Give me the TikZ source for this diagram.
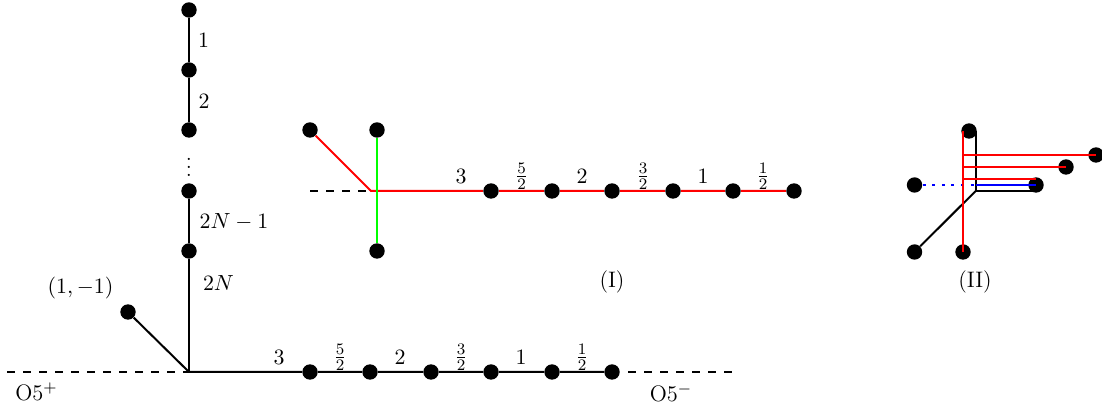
\documentclass[tikz,border=0pt]{standalone}
\usepackage{amssymb}
\usetikzlibrary{arrows.meta, calc}
\definecolor{redline}{RGB}{255, 0, 0}
\definecolor{greenline}{RGB}{0, 255, 0}
\definecolor{blueline}{RGB}{0, 0, 255}

\begin{document}
\begin{tikzpicture}[x=0.5pt, y=-0.5pt,
        brane/.style={circle, fill=black, draw=none, minimum size=7.7pt, inner sep=0pt},
        wire/.style={line width=1pt, black},
        redwire/.style={line width=1pt, redline},
        dashwire/.style={line width=1pt, black, dash pattern=on 4pt off 4pt},
        lab/.style={inner sep=0pt, font=\fontsize{11.2}{13}\selectfont}
    ]
    \useasboundingbox (0,0) rectangle (1102,405);

    % left diagram
    \coordinate (j) at (189,372);
    \coordinate (dl) at (7,372);
    \coordinate (dr) at (733,372);
    \node[brane] (s) at (128,312) {};
    \foreach \n/\y in {a1/10, a2/70, a3/130, a4/191, a5/251}
        \node[brane] (\n) at (189,\y) {};
    \foreach \n/\x in {b1/310, b2/370, b3/431, b4/491, b5/552, b6/612}
        \node[brane] (\n) at (\x,372) {};
    \draw[wire] (a1) -- (a2) -- (a3);
    \draw[wire] (a4) -- (a5) -- (j);
    \draw[wire] (s) -- (j) -- (b1) -- (b2) -- (b3) -- (b4) -- (b5) -- (b6);
    \draw[dashwire] (dl) -- (j);
    \draw[dashwire, dash phase=4pt] (b6) -- (dr);
    \node[lab] (l1) at (203.5,40) {$1$};
    \node[lab] (l2) at (204,101) {$2$};
    \node[lab] (ldots) at (189,161) {$\vdots$};
    \node[lab] (l3) at (234,222) {$2N-1$};
    \node[lab] (l4) at (218.5,283) {$2N$};
    \node[lab] (ls) at (80.5,288.5) {$(1,-1)$};
    \node[lab] (lp) at (36.5,392) {O5$^+$};
    \node[lab] (lm) at (671,393) {O5$^-$};
    \foreach \t/\x/\y in {3/279/357, \frac{5}{2}/340/357, 2/400/357, \frac{3}{2}/461/357, 1/521/357, \frac{1}{2}/582/357}
        \node[lab] at (\x,\y) {$\t$};

    % diagram (I)
    \coordinate (k) at (371,191);
    \coordinate (kd) at (310,191);
    \node[brane] (p) at (310,130) {};
    \node[brane] (q) at (377,130) {};
    \node[brane] (r) at (377,251) {};
    \foreach \n/\x in {c1/491, c2/552, c3/612, c4/673, c5/733, c6/794}
        \node[brane] (\n) at (\x,191) {};
    \draw[dashwire] (kd) -- (k);
    \draw[redwire] (p) -- (k) -- (c1) -- (c2) -- (c3) -- (c4) -- (c5) -- (c6);
    \draw[line width=1pt, greenline] (q) -- (r);
    \foreach \t/\x/\y in {3/461/176, \frac{5}{2}/521.7/176, 2/582/176, \frac{3}{2}/643/176, 1/703/176, \frac{1}{2}/763/176}
        \node[lab] at (\x,\y) {$\t$};
    \node[lab] (li) at (612,282) {(I)};

    % diagram (II)
    \node[brane] (t) at (969,131) {};
    \node[brane] (u) at (914.5,185) {};
    \node[brane] (v) at (1036,185) {};
    \node[brane] (w) at (914.5,252) {};
    \node[brane] (x) at (963,252) {};
    \node[brane] (y) at (1066,167) {};
    \node[brane] (z) at (1096,155) {};
    \coordinate (m) at (975.7,191);
    \coordinate (mt) at (975.7,131);
    \coordinate (mv) at (1036,191);
    \coordinate (mb) at (975.7,185);
    \coordinate (rt) at (963,131);
    \coordinate (r1) at (963,155);
    \coordinate (r2) at (963,167);
    \coordinate (r3) at (963,179);
    \coordinate (v3) at (1036,179);
    \draw[wire] (mt) -- (m) -- (mv);
    \draw[wire] (w) -- (m);
    \draw[line width=1pt, blueline, dash pattern=on 1.5pt off 3.3pt] (u) -- (mb);
    \draw[line width=1pt, blueline] (mb) -- (v.center);
    \draw[redwire] (rt) -- (x.center);
    \draw[redwire] (r1) -- (z.center);
    \draw[redwire] (r2) -- (y.center);
    \draw[redwire] (r3) -- (v3);
    \node[lab] (lii) at (975,282) {(II)};
\end{tikzpicture}
\end{document}
